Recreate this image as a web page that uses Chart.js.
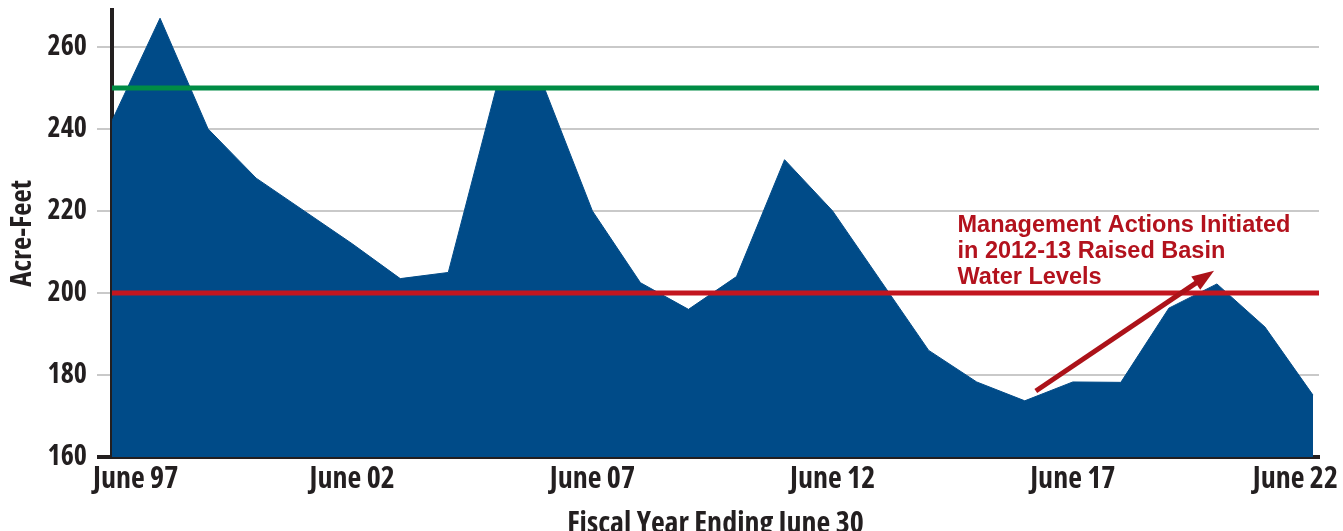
<!DOCTYPE html>
<html>
<head>
<meta charset="utf-8">
<title>Basin Water Levels</title>
<script src="https://cdn.jsdelivr.net/npm/chart.js@4.4.1/dist/chart.umd.min.js"></script>
<style>
  html, body { margin: 0; padding: 0; background: #ffffff; overflow: hidden; }
  #wrap { width: 1343px; height: 545px; }
</style>
</head>
<body>
<div id="wrap"><canvas id="basin-chart"></canvas></div>
<script>
// Basin storage at the end of each fiscal year (June), 1997 - 2022
const fiscalYears = ['1997', '1998', '1999', '2000', '2001', '2002', '2003', '2004', '2005',
  '2006', '2007', '2008', '2009', '2010', '2011', '2012', '2013', '2014', '2015', '2016',
  '2017', '2018', '2019', '2020', '2021', '2022'];
const acreFeet = [242, 267, 240, 228, 220, 212, 203.5, 205, 250, 250, 220, 202.5, 196,
  204, 232.5, 220, 203, 186, 178.3, 173.7, 178.3, 178.2, 196.3, 202.2, 191.7, 175.1];

const yTicks = [160, 180, 200, 220, 240, 260];
const xTickYears = ['1997', '2002', '2007', '2012', '2017', '2022'];
const xTickLabels = ['June 97', 'June 02', 'June 07', 'June 12', 'June 17', 'June 22'];

const upperTarget = 250;
const lowerTarget = 200;
const noteLines = ['Management Actions Initiated', 'in 2012-13 Raised Basin', 'Water Levels'];

const INK = '#231f20';
const GRID = '#c9c9c9';
const xMax = fiscalYears.length - 1 + 0.125;

// axis text wants a condensed bold face; use a family that really has one
function pickCondensed() {
  const c = document.createElement('canvas').getContext('2d');
  for (const fam of ["'Noto Sans'", "'Open Sans'", 'Roboto']) {
    c.font = 'bold 40px ' + fam;
    const normal = c.measureText('June 97 260').width;
    c.font = 'bold condensed 40px ' + fam;
    const narrow = c.measureText('June 97 260').width;
    if (narrow < normal * 0.92) return { family: fam, weight: 'bold condensed' };
  }
  return { family: "'DejaVu Sans Condensed', sans-serif", weight: 'bold' };
}
const COND = pickCondensed();
const condFont = size => ({ family: COND.family, size, weight: COND.weight });

function fixedTicks(scale) {
  scale.ticks = yTicks.map(v => ({ value: v }));
}

// arrow, note text and the x labels (first/last pulled inside the frame)
const notesPlugin = {
  id: 'basinNotes',
  afterDatasetsDraw(chart) {
    const { ctx, scales: { x, y } } = chart;
    const x1 = x.getPixelForValue(19.23), y1 = y.getPixelForValue(176.1);
    const x2 = x.getPixelForValue(22.94), y2 = y.getPixelForValue(205.4);
    const ang = Math.atan2(y2 - y1, x2 - x1);
    const head = 22, half = 8;

    ctx.save();
    ctx.strokeStyle = '#ac1219';
    ctx.fillStyle = '#ac1219';
    ctx.lineWidth = 5;
    ctx.beginPath();
    ctx.moveTo(x1, y1);
    ctx.lineTo(x2 - Math.cos(ang) * (head - 4), y2 - Math.sin(ang) * (head - 4));
    ctx.stroke();
    ctx.beginPath();
    ctx.moveTo(x2, y2);
    ctx.lineTo(x2 - Math.cos(ang) * head + Math.sin(ang) * half, y2 - Math.sin(ang) * head - Math.cos(ang) * half);
    ctx.lineTo(x2 - Math.cos(ang) * head - Math.sin(ang) * half, y2 - Math.sin(ang) * head + Math.cos(ang) * half);
    ctx.closePath();
    ctx.fill();

    ctx.fillStyle = '#b3121d';
    ctx.font = "bold 23.5px 'Liberation Sans', Arial, sans-serif";
    ctx.textAlign = 'left';
    ctx.textBaseline = 'alphabetic';
    const tx = x.getPixelForValue(17.6);
    const ty = y.getPixelForValue(214.9);
    noteLines.forEach((line, i) => ctx.fillText(line, tx, ty + i * 26));
    ctx.restore();
  },
  afterDraw(chart) {
    const { ctx, chartArea, scales: { x } } = chart;
    ctx.save();
    ctx.fillStyle = INK;
    ctx.font = COND.weight + ' 30px ' + COND.family;
    ctx.textBaseline = 'alphabetic';
    xTickLabels.forEach((label, i) => {
      const px = x.getPixelForValue(fiscalYears.indexOf(xTickYears[i]));
      let tx = px;
      ctx.textAlign = 'center';
      if (i === 0) { ctx.textAlign = 'left'; tx = px - 19; }
      if (i === xTickLabels.length - 1) { ctx.textAlign = 'right'; tx = px + 25; }
      ctx.fillText(label, tx, chartArea.bottom + 31);
    });
    ctx.restore();
  }
};

new Chart(document.getElementById('basin-chart'), {
  type: 'line',
  data: {
    datasets: [
      {
        label: 'Upper target',
        data: [{ x: 0, y: upperTarget }, { x: xMax, y: upperTarget }],
        borderColor: '#008c45',
        borderWidth: 5,
        pointRadius: 0,
        fill: false,
        order: 0
      },
      {
        label: 'Lower target',
        data: [{ x: 0, y: lowerTarget }, { x: xMax, y: lowerTarget }],
        borderColor: '#c3161f',
        borderWidth: 5,
        pointRadius: 0,
        fill: false,
        order: 0
      },
      {
        label: 'Acre-Feet',
        data: acreFeet.map((v, i) => ({ x: i, y: v })),
        borderColor: '#004b88',
        backgroundColor: '#004b88',
        borderWidth: 1,
        pointRadius: 0,
        tension: 0,
        fill: 'start',
        order: 1
      }
    ]
  },
  options: {
    responsive: true,
    maintainAspectRatio: false,
    animation: false,
    layout: { padding: { top: 10, right: 24, bottom: 0, left: 0 } },
    plugins: {
      legend: { display: false },
      tooltip: { enabled: false }
    },
    scales: {
      x: {
        type: 'linear',
        min: 0,
        max: xMax,
        z: 1,
        afterFit: s => { s.height = 88; s.paddingLeft = 0; s.paddingRight = 0; },
        grid: { display: false },
        border: { display: true, color: INK, width: 4 },
        ticks: { display: false },
        title: {
          display: true,
          text: 'Fiscal Year Ending June 30',
          color: INK,
          font: condFont(30),
          padding: { top: 0, bottom: 3 }
        }
      },
      y: {
        type: 'linear',
        position: 'left',
        min: 160,
        max: 269,
        z: 1,
        afterBuildTicks: fixedTicks,
        afterFit: s => { s.width = 112; s.paddingTop = 0; s.paddingBottom = 0; },
        grid: {
          drawOnChartArea: false,
          drawTicks: true,
          tickLength: 15,
          color: c => (c.tick && c.tick.value === 160 ? INK : GRID),
          lineWidth: c => (c.tick && c.tick.value === 160 ? 4 : 2)
        },
        border: { display: true, color: INK, width: 4 },
        ticks: {
          padding: 10,
          color: INK,
          font: condFont(28)
        },
        title: {
          display: true,
          text: 'Acre-Feet',
          color: INK,
          font: condFont(29),
          padding: { top: 5, bottom: 0 }
        }
      },
      yGrid: {
        type: 'linear',
        position: 'left',
        min: 160,
        max: 269,
        afterBuildTicks: fixedTicks,
        afterFit: s => { s.width = 0; s.paddingTop = 0; s.paddingBottom = 0; },
        grid: { color: GRID, lineWidth: 2, drawTicks: false },
        border: { display: false },
        ticks: { display: false }
      }
    }
  },
  plugins: [notesPlugin]
});
</script>
</body>
</html>
